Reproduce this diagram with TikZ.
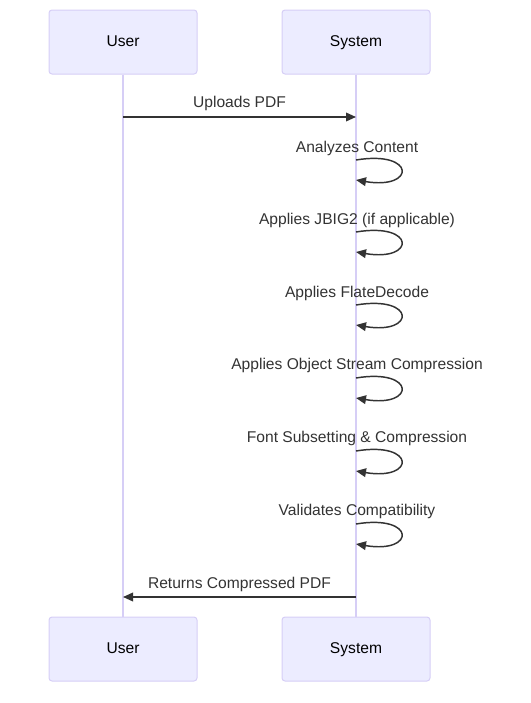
\documentclass[tikz,border=0pt]{standalone}
\usepackage{fontspec}
\setmainfont{Liberation Sans}
\usetikzlibrary{arrows.meta}
\definecolor{actfill}{HTML}{ECECFF}
\definecolor{actline}{HTML}{D6CEF6}
\definecolor{lifeline}{HTML}{D6CEF6}
\definecolor{msgc}{HTML}{333333}
\begin{document}
\begin{tikzpicture}[x=0.75pt,y=-0.75pt,
  actor/.style={draw=actline, fill=actfill, rounded corners=2.25pt, minimum width=111pt, minimum height=48pt, line width=0.75pt, inner sep=0pt, font=\fontsize{11.7}{14}\selectfont, text=black, text height=8.6pt, text depth=2.4pt},
  lifel/.style={draw=lifeline, line width=1.2pt},
  msgline/.style={draw=msgc, line width=1.1pt, -{Triangle[length=7.5pt,width=6.5pt]}},
  msglabel/.style={font=\fontsize{11.7}{14}\selectfont, text=msgc, inner sep=0pt, text height=8.6pt, text depth=2.4pt}]
\path[use as bounding box] (0,0) rectangle (531,703);
\node[actor] (ut) at (123,42) {User};
\node[actor] (st) at (356,42) {System};
\node[actor] (ub) at (123,649) {User};
\node[actor] (sb) at (356,649) {System};
\draw[lifel] (ut.south) -- (ub.north);
\draw[lifel] (st.south) -- (sb.north);
% messages
\coordinate (m1a) at (123,117);
\coordinate (m1b) at (356,117);
\draw[msgline] (m1a) -- (m1b);
\node[msglabel] (l1) at (239.5,103) {Uploads PDF};
\foreach \i/\ty/\ly/\txt in {2/148/160/Analyzes Content, 3/220/232/Applies JBIG2 (if applicable), 4/293/305/Applies FlateDecode, 5/365/378/Applies Object Stream Compression, 6/438/451/Font Subsetting \& Compression, 7/511/524/Validates Compatibility} {
  \node[msglabel] (l\i) at (357,\ty) {\txt};
  \coordinate (s\i a) at (356,\ly);
  \coordinate (s\i b) at (356,\ly+20);
  \draw[msgline] (s\i a) .. controls +(60,-10) and +(60,10) .. (s\i b);
}
\coordinate (m8a) at (356,597);
\coordinate (m8b) at (123,597);
\draw[msgline] (m8a) -- (m8b);
\node[msglabel] (l8) at (239.5,584) {Returns Compressed PDF};
\end{tikzpicture}
\end{document}
